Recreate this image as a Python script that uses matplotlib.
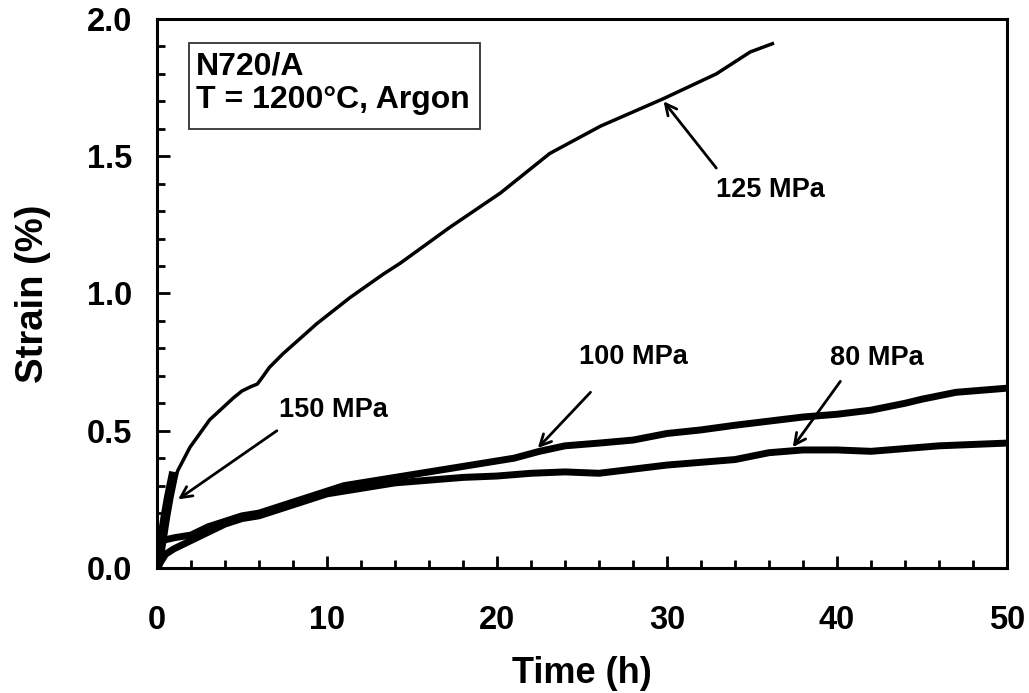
"""Creep strain vs time curves for N720/A at 1200 C in argon."""

import matplotlib

matplotlib.use("Agg")
import matplotlib.pyplot as plt
from matplotlib.patches import Rectangle
from matplotlib.ticker import MultipleLocator

plt.rcParams["font.family"] = ["Liberation Sans", "DejaVu Sans"]
plt.rcParams["font.weight"] = "bold"

# values
time_150 = [0.0, 0.1, 0.3, 0.5, 0.7, 0.9, 1.0]
strain_150 = [0.0, 0.03, 0.11, 0.19, 0.26, 0.32, 0.35]

time_125 = [0.0, 0.3, 0.7, 1.24, 1.94, 3.1, 4.5, 5.0, 5.5, 5.9, 6.2, 6.6,
            7.4, 9.4, 11.35, 13.3, 14.3, 17.2, 20.2, 23.1, 26.1, 29.8, 32.9,
            34.9, 36.2]
strain_125 = [0.0, 0.15, 0.28, 0.357, 0.44, 0.54, 0.62, 0.645, 0.66, 0.67,
              0.695, 0.73, 0.78, 0.89, 0.985, 1.07, 1.11, 1.24, 1.366, 1.51,
              1.61, 1.71, 1.80, 1.88, 1.91]

time_100 = [0.0, 0.3, 1.0, 2.0, 3.0, 4.0, 5.0, 6.0, 8.0, 10.0, 11.0, 13.0,
            15.0, 17.0, 19.0, 21.0, 22.5, 24.0, 26.0, 28.0, 30.0, 32.0, 34.0,
            36.0, 38.0, 40.0, 42.0, 44.0, 45.0, 47.0, 50.0]
strain_100 = [0.0, 0.10, 0.11, 0.12, 0.15, 0.17, 0.19, 0.20, 0.24, 0.28, 0.30,
              0.32, 0.34, 0.36, 0.38, 0.40, 0.425, 0.445, 0.455, 0.466, 0.49,
              0.503, 0.52, 0.535, 0.55, 0.56, 0.575, 0.60, 0.615, 0.64, 0.655]

time_80 = [0.0, 0.5, 1.0, 2.0, 3.0, 4.0, 5.0, 6.0, 8.0, 10.0, 12.0, 14.0,
           16.0, 18.0, 20.0, 22.0, 24.0, 26.0, 28.0, 30.0, 32.0, 34.0, 36.0,
           38.0, 40.0, 42.0, 44.0, 46.0, 48.0, 50.0]
strain_80 = [0.0, 0.05, 0.07, 0.10, 0.13, 0.16, 0.18, 0.19, 0.23, 0.27, 0.29,
             0.31, 0.32, 0.33, 0.335, 0.345, 0.35, 0.345, 0.36, 0.375, 0.385,
             0.395, 0.42, 0.43, 0.43, 0.425, 0.435, 0.445, 0.45, 0.455]

labels = ["150 MPa", "125 MPa", "100 MPa", "80 MPa"]
label_xy = [(10.35, 0.576), (36.06, 1.377), (28.0, 0.769), (42.35, 0.765)]
arrow_tips = [(1.24, 0.25), (29.8, 1.70), (22.4, 0.437), (37.4, 0.44)]
arrow_tails = [(7.05, 0.50), (32.9, 1.457), (25.5, 0.64), (40.2, 0.68)]

fig = plt.figure(figsize=(10.29, 6.93), dpi=100)
ax = fig.add_axes([0.1526, 0.1804, 0.826, 0.7922])

ax.plot(time_150, strain_150, color="black", lw=7, solid_capstyle="butt")
ax.plot(time_125, strain_125, color="black", lw=2.5)
ax.plot(time_100, strain_100, color="black", lw=5)
ax.plot(time_80, strain_80, color="black", lw=5)

for text, xy, tip, tail in zip(labels, label_xy, arrow_tips, arrow_tails):
    ax.annotate("", xy=tip, xytext=tail,
                arrowprops=dict(arrowstyle="->", lw=2, color="black",
                                mutation_scale=20, shrinkA=0, shrinkB=0))
    ax.text(xy[0], xy[1], text, ha="center", va="center", fontsize=19.5,
            fontweight="bold")

# label box
ax.add_patch(Rectangle((0.038, 0.80), 0.342, 0.156, transform=ax.transAxes,
                       fill=False, edgecolor="#333333", lw=1.3))
ax.text(0.046, 0.9126, "N720/A", transform=ax.transAxes, ha="left",
        va="center", fontsize=23, fontweight="bold")
ax.text(0.046, 0.852, "T = 1200°C, Argon", transform=ax.transAxes, ha="left",
        va="center", fontsize=23, fontweight="bold")

ax.set_xlim(0, 50)
ax.set_ylim(0, 2.0)
ax.xaxis.set_major_locator(MultipleLocator(10))
ax.xaxis.set_minor_locator(MultipleLocator(2))
ax.yaxis.set_major_locator(MultipleLocator(0.5))
ax.yaxis.set_minor_locator(MultipleLocator(0.1))
ax.yaxis.set_major_formatter(plt.FormatStrFormatter("%.1f"))

ax.tick_params(which="both", direction="in", top=False, right=False,
               width=2, labelsize=23.5)
ax.tick_params(which="major", length=9)
ax.tick_params(which="minor", length=6)
ax.tick_params(axis="x", pad=27)
ax.tick_params(axis="y", pad=18)
for label in ax.get_xticklabels() + ax.get_yticklabels():
    label.set_fontweight("bold")
for spine in ax.spines.values():
    spine.set_linewidth(2.2)

ax.set_xlabel("Time (h)", fontsize=26, fontweight="bold", labelpad=14)
ax.set_ylabel("Strain (%)", fontsize=27.5, fontweight="bold", labelpad=26)

fig.savefig("out.png", dpi=100)
